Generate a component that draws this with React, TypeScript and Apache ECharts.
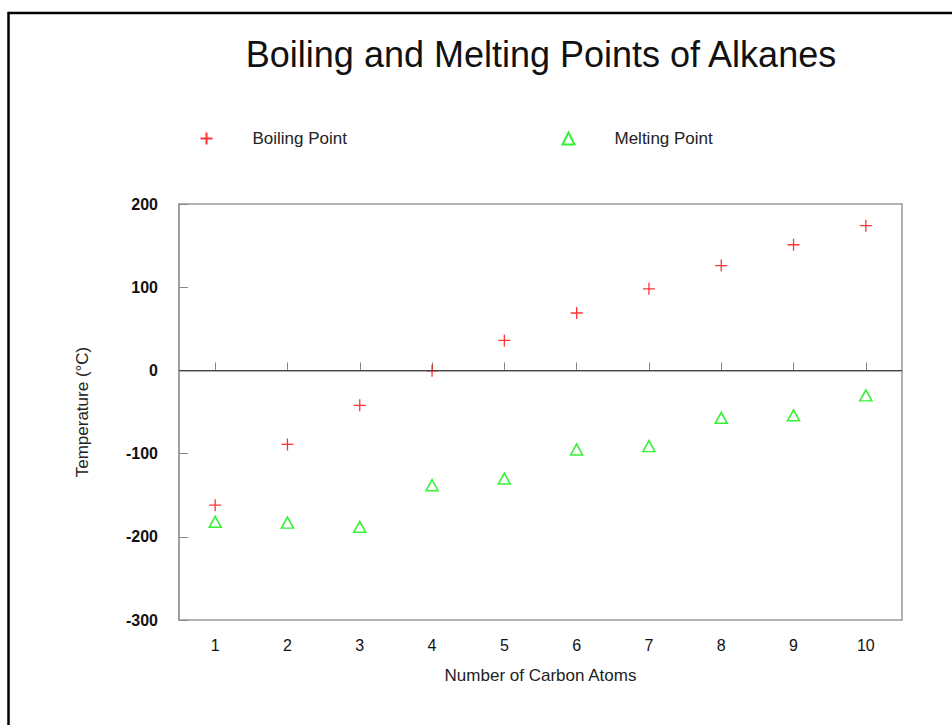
import React, { useEffect, useRef } from "react";
import * as echarts from "echarts";

const categories = ["1", "2", "3", "4", "5", "6", "7", "8", "9", "10"];
const boilingPoint = [-162, -89, -42, -0.5, 36, 69, 98, 126, 151, 174];
const meltingPoint = [-182, -183, -188, -138, -130, -95, -91, -57, -54, -30];
const yTicks = { min: -300, max: 200, interval: 100 };

const FONT = "'Liberation Sans', Arial, sans-serif";

export default function App() {
  const ref = useRef<HTMLDivElement>(null);
  useEffect(() => {
    if (!ref.current) return;
    const chart = echarts.init(ref.current, undefined, { renderer: "svg" });
    const plusPath = "path://M0,6 L12,6 M6,0 L6,12";
    const legendBase = {
      top: 125,
      itemWidth: 12,
      itemHeight: 12,
      selectedMode: false,
      textStyle: { fontSize: 17, color: "#222", fontFamily: FONT, padding: [0, 0, 0, 35] },
    };
    chart.setOption({
      animation: false,
      backgroundColor: "#fff",
      textStyle: { fontFamily: FONT },
      title: {
        text: "Boiling and Melting Points of Alkanes",
        left: 536,
        textAlign: "center",
        top: 31,
        textStyle: { fontSize: 36, fontWeight: "normal", color: "#111", fontFamily: FONT },
      },
      legend: [
        { ...legendBase, data: ["Boiling Point"], left: 193 },
        { ...legendBase, data: ["Melting Point"], left: 555 },
      ],
      graphic: [
        {
          type: "rect",
          shape: { x: 8.5, y: 13, width: 1000, height: 1000 },
          style: { fill: "none", stroke: "#000", lineWidth: 2.5 },
          silent: true,
        },
      ],
      grid: {
        left: 179,
        top: 204,
        width: 723,
        height: 416,
        show: true,
        borderColor: "#999",
        borderWidth: 1.5,
        backgroundColor: "transparent",
      },
      xAxis: {
        type: "category",
        data: categories,
        boundaryGap: true,
        name: "Number of Carbon Atoms",
        nameLocation: "middle",
        nameGap: 47,
        nameTextStyle: { fontSize: 17, color: "#222", fontFamily: FONT },
        axisLine: { show: true, lineStyle: { color: "#999", width: 1.5 } },
        axisTick: { show: true, inside: true, alignWithLabel: true, length: 8, lineStyle: { color: "#888" } },
        axisLabel: { fontSize: 16, color: "#111", margin: 17, fontFamily: FONT },
        splitLine: { show: false },
      },
      yAxis: {
        type: "value",
        min: yTicks.min,
        max: yTicks.max,
        interval: yTicks.interval,
        name: "Temperature (°C)",
        nameLocation: "middle",
        nameGap: 88,
        nameTextStyle: { fontSize: 17, color: "#222", fontFamily: FONT },
        axisLine: { show: true, lineStyle: { color: "#999", width: 1.5 } },
        axisTick: { show: true, inside: true, length: 9, lineStyle: { color: "#888" } },
        axisLabel: { fontSize: 16, color: "#111", fontWeight: "bold", margin: 21, fontFamily: FONT },
        splitLine: { show: false },
      },
      series: [
        {
          name: "Boiling Point",
          type: "scatter",
          data: boilingPoint,
          symbol: plusPath,
          symbolSize: 12,
          itemStyle: { color: "none", borderColor: "#ff0000", borderWidth: 1.3 },
          markLine: {
            silent: true,
            symbol: ["none", "none"],
            label: { show: false },
            lineStyle: { color: "#444", width: 1, type: "solid" },
            data: [{ yAxis: 0 }],
          },
        },
        {
          name: "Melting Point",
          type: "scatter",
          data: meltingPoint,
          symbol: "triangle",
          symbolSize: [12, 11],
          itemStyle: { color: "none", borderColor: "#00ee00", borderWidth: 1.5 },
        },
      ],
    });
    return () => chart.dispose();
  }, []);
  return (
    <div
      ref={ref}
      style={{ position: "fixed", left: 0, top: 0, width: 952, height: 725 }}
    />
  );
}
